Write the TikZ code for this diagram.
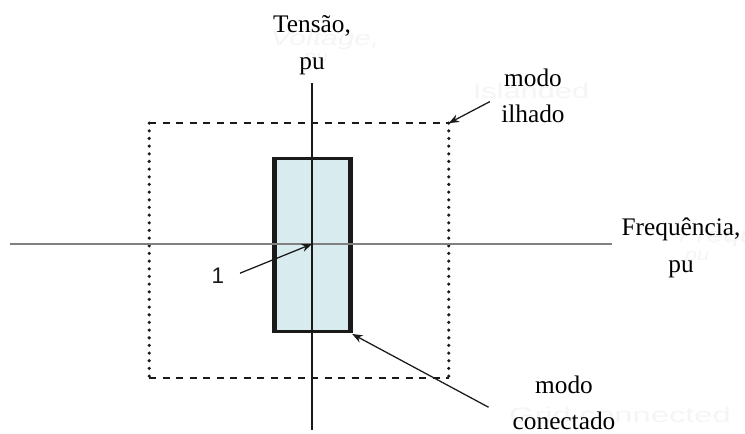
\documentclass[tikz,border=0pt]{standalone}
\usepackage{fontspec}
\setmainfont{Liberation Serif}
\newfontfamily\arialfont{Liberation Sans}
\usetikzlibrary{arrows.meta,positioning}
\definecolor{ink}{HTML}{1A1A1A}
\definecolor{pale}{HTML}{D8ECEF}
\definecolor{axisgray}{HTML}{808080}
\tikzset{lbl/.style={align=center,inner sep=0pt,font=\fontsize{18}{26}\selectfont},arr/.style={-{Stealth[length=2.6mm,width=2mm]},line width=0.9pt,draw=ink},ghost/.style={text=black!4,inner sep=0pt,font=\arialfont\fontsize{15}{18}\selectfont,transform shape}}

\begin{document}
\begin{tikzpicture}[x=0.025cm,y=-0.025cm]
\useasboundingbox (0,0) rectangle (745,434);
% faint leftover text
\node[ghost,xscale=1.42,font=\arialfont\itshape\fontsize{15}{18}\selectfont] (vghost) at (325,40) {Voltage,};
\node[ghost,xscale=1.3,font=\arialfont\itshape\fontsize{12}{14}\selectfont] (pughost) at (316,60) {pu};
\node[ghost,xscale=1.46] (ighost) at (531,91) {Islanded};
\node[ghost,xscale=1.42,anchor=west,font=\arialfont\itshape\fontsize{15}{18}\selectfont] (fghost) at (678,237) {Frequency,};
\node[ghost,xscale=1.3,font=\arialfont\itshape\fontsize{12}{14}\selectfont] (pfghost) at (697,258) {pu};
\node[ghost,xscale=1.55] (gghost) at (620,415) {Grid connected};
% regions
\node[minimum width=212.6pt,minimum height=180.7pt,inner sep=0pt] (islbox) at (299,250.5) {};
\node[fill=pale,draw=ink,line width=2pt,minimum width=52.5pt,minimum height=122.6pt,inner sep=0pt] (connbox) at (312.5,245) {};
\draw[ink,line width=3.6pt] (connbox.north west)--(connbox.south west);
\draw[ink,line width=3.6pt] (connbox.north east)--(connbox.south east);
\draw[ink,line width=1.4pt,dash pattern=on 5pt off 4.6pt] (islbox.north west)--(islbox.north east);
\draw[ink,line width=1.4pt,dash pattern=on 5pt off 4.6pt] (islbox.south west)--(islbox.south east);
\draw[ink,line width=2.5pt,line cap=round,dash pattern=on 0pt off 5.45pt] (islbox.north west)--(islbox.south west);
\draw[ink,line width=2.5pt,line cap=round,dash pattern=on 0pt off 5.45pt] (islbox.north east)--(islbox.south east);
% axes
\coordinate (origin) at (312,244);
\draw[axisgray,line width=0.9pt] (10,244)--(612,244);
\draw[ink,line width=0.9pt] (312,83)--(312,430);
% labels
\node[lbl] (volt) at (312,45) {Tensão,\\pu};
\node[lbl] (freq) at (681,248) {Frequência,\\pu};
\node[lbl] (islanded) at (533,96) {modo\\ilhado};
\node[lbl] (connected) at (564,403) {modo\\conectado};
\node[inner sep=0pt,text=ink,font=\arialfont\fontsize{16}{18}\selectfont] (one) at (218,276) {1};
% pointers
\draw[arr] ([xshift=11pt,yshift=2pt]one.east)--(origin);
\draw[arr] ([xshift=-8pt,yshift=-4pt]islanded.west)--(islbox.north east);
\draw[arr] ([xshift=-17pt,yshift=-3pt]connected.west)--([xshift=1pt,yshift=-1pt]connbox.south east);
\end{tikzpicture}
\end{document}
